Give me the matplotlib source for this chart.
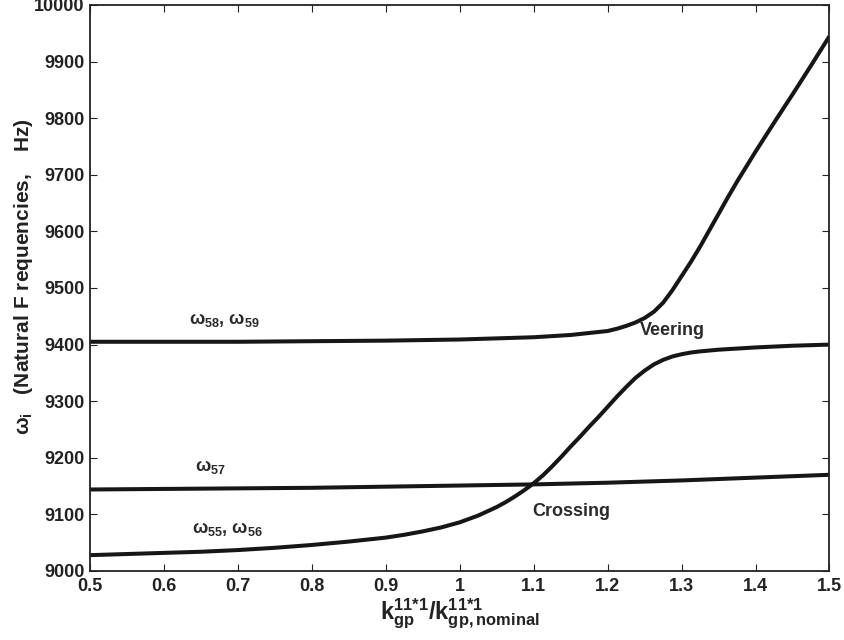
import matplotlib
matplotlib.use("Agg")
import matplotlib.pyplot as plt

plt.rcParams['font.family'] = ['Liberation Sans', 'DejaVu Sans']
plt.rcParams['font.weight'] = 'bold'
plt.rcParams['mathtext.fontset'] = 'custom'
plt.rcParams['mathtext.rm'] = 'Liberation Sans:bold'
plt.rcParams['mathtext.bf'] = 'Liberation Sans:bold'
plt.rcParams['mathtext.it'] = 'Liberation Sans:bold'
plt.rcParams['mathtext.default'] = 'bf'

# Curve omega_58, omega_59 (veering, rises at right)
x_w58 = [0.5, 0.6, 0.7, 0.8, 0.9, 1.0, 1.05, 1.1, 1.15, 1.2, 1.2125, 1.225, 1.2375,
         1.25, 1.2625, 1.275, 1.2875, 1.3, 1.3125, 1.325, 1.3375, 1.35, 1.3625, 1.375,
         1.4, 1.425, 1.45, 1.475, 1.5]
y_w58 = [9405, 9405, 9405, 9406, 9407, 9409, 9411, 9413, 9417, 9424, 9428, 9433, 9439,
         9447, 9458, 9474, 9496, 9521, 9546, 9573, 9602, 9631, 9660, 9688,
         9741, 9792, 9842, 9893, 9945]

# Curve omega_57 (nearly flat)
x_w57 = [0.5, 0.6, 0.7, 0.8, 0.9, 1.0, 1.1, 1.2, 1.3, 1.4, 1.5]
y_w57 = [9144, 9145, 9146, 9147, 9149, 9151, 9153, 9156, 9160, 9165, 9170]

# Curve omega_55, omega_56 (crosses omega_57, veers below omega_58)
x_w55 = [0.5, 0.55, 0.6, 0.65, 0.7, 0.75, 0.8, 0.85, 0.9, 0.925, 0.95, 0.975, 1.0,
         1.025, 1.05, 1.0625, 1.075, 1.0875, 1.1, 1.1125, 1.125, 1.1375, 1.15, 1.1625,
         1.175, 1.1875, 1.2, 1.2125, 1.225, 1.2375, 1.25, 1.2625, 1.275, 1.2875, 1.3,
         1.3125, 1.325, 1.35, 1.375, 1.4, 1.45, 1.5]
y_w55 = [9028, 9030, 9032, 9034, 9037, 9041, 9046, 9052, 9059, 9064, 9070, 9077, 9086,
         9098, 9113, 9122, 9132, 9143, 9155, 9169, 9185, 9202, 9220, 9237,
         9255, 9272, 9290, 9308, 9325, 9341, 9354, 9365, 9373, 9379, 9383,
         9386, 9388, 9391, 9393, 9395, 9398, 9400]

x_ticks = [0.5, 0.6, 0.7, 0.8, 0.9, 1.0, 1.1, 1.2, 1.3, 1.4, 1.5]
x_tick_labels = ['0.5', '0.6', '0.7', '0.8', '0.9', '1', '1.1', '1.2', '1.3', '1.4', '1.5']
y_ticks = [9000, 9100, 9200, 9300, 9400, 9500, 9600, 9700, 9800, 9900, 10000]

fig = plt.figure(figsize=(8.45, 6.4), dpi=100)
ax = fig.add_axes([90/845, 1-571/640, (829.5-90)/845, (571-5)/640])

lc = '#161616'
lw = 2.9
ax.plot(x_w58, y_w58, color=lc, lw=lw, solid_capstyle='butt', solid_joinstyle='round')
ax.plot(x_w57, y_w57, color=lc, lw=lw, solid_capstyle='butt', solid_joinstyle='round')
ax.plot(x_w55, y_w55, color=lc, lw=lw, solid_capstyle='butt', solid_joinstyle='round')

ax.set_xlim(0.5, 1.5)
ax.set_ylim(9000, 10000)
ax.set_xticks(x_ticks)
ax.set_xticklabels(x_tick_labels)
ax.set_yticks(y_ticks)
ax.tick_params(direction='in', length=5, width=0.8, top=True, right=True,
               labelsize=13, colors='#222222', pad=4)
ax.tick_params(axis='x', pad=5)
for s in ax.spines.values():
    s.set_linewidth(1.3)
    s.set_color('#222222')

ax.set_xlabel(r'$\mathbf{k^{11{*}1}_{gp}/k^{11{*}1}_{gp,nominal}}$', fontsize=17,
              color='#222222', labelpad=1)
ax.set_ylabel(r'$\mathbf{\omega_{i}\ \ \ (Natural\ F\ requencies,\ \ \ Hz)}$', fontsize=15,
              color='#222222')
ax.yaxis.set_label_coords(-0.074, 0.52)

tc = '#2a2a2a'
ax.text(0.634, 9443, r'$\mathrm{\omega}_{\mathbf{58}}$, $\mathrm{\omega}_{\mathbf{59}}$',
        fontsize=13, color=tc, ha='left', va='center')
ax.text(0.642, 9182, r'$\mathrm{\omega}_{\mathbf{57}}$', fontsize=13, color=tc,
        ha='left', va='center')
ax.text(0.6375, 9073, r'$\mathrm{\omega}_{\mathbf{55}}$, $\mathrm{\omega}_{\mathbf{56}}$',
        fontsize=13, color=tc, ha='left', va='center')
ax.text(1.2877, 9425, 'Veering', fontsize=13, color=tc, ha='center', va='center')
ax.text(1.151, 9105, 'Crossing', fontsize=13, color=tc, ha='center', va='center')

fig.savefig('out.png', dpi=100)
